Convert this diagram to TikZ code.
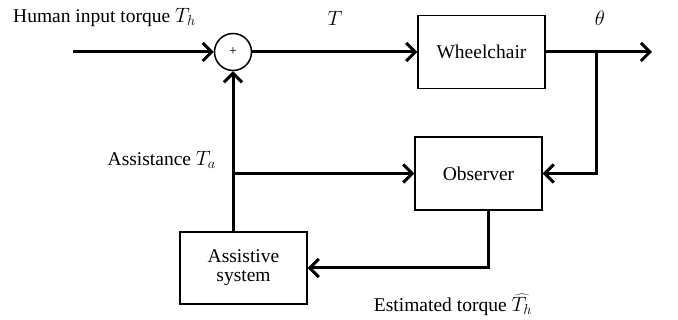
\documentclass[tikz,border=0pt]{standalone}
\usepackage{fontspec}
\setmainfont{Liberation Serif}
\usetikzlibrary{arrows.meta}
\begin{document}
\begin{tikzpicture}[x=1pt,y=1pt,
  font=\fontsize{19.5}{22}\selectfont,
  blk/.style={draw,line width=1.3pt,minimum width=127pt,minimum height=73pt,align=center,inner sep=2pt},
  sig/.style={line width=3pt,-{Straight Barb[length=9pt,width=18pt,line width=3pt]}},
  lbl/.style={inner sep=0pt}]
\useasboundingbox (0,0) rectangle (678,320);
% nodes (y = 320 - pixel y)
\node[draw,circle,line width=1.5pt,minimum size=37pt,inner sep=0pt] (sum) at (233,268) {\fontsize{14}{14}\selectfont +};
\node[blk] (wheel) at (481.5,268) {Wheelchair};
\node[blk] (obs) at (478.5,146.5) {Observer};
\node[blk,minimum height=72pt] (asst) at (243.5,52) {Assistive\\[-3pt]system};
\coordinate (in) at (73,268);
\coordinate (out) at (652,268);
\coordinate (br) at (596,268);
\coordinate (ja) at (233,146.5);
% connectors
\draw[sig] (in) -- (sum.west);
\draw[sig] (sum.east) -- (wheel.west);
\draw[sig] (wheel.east) -- (out);
\draw[sig] (br) |- (obs.east);
\draw[sig] (sum|-asst.north) -- (sum.south);
\draw[sig] (ja) -- (obs.west);
\draw[sig] ([xshift=9.5pt]obs.south) |- (asst.east);
% labels
\node[lbl,anchor=west] (lh) at (13,303) {Human input torque $T_h$};
\node[lbl] (lt) at (335,302) {$T$};
\node[lbl] (lth) at (600,302) {$\theta$};
\node[lbl,anchor=east] (la) at (216,160) {Assistance $T_a$};
\node[lbl] (le) at (453,15) {Estimated torque $\widehat{T_h}$};
\end{tikzpicture}
\end{document}
